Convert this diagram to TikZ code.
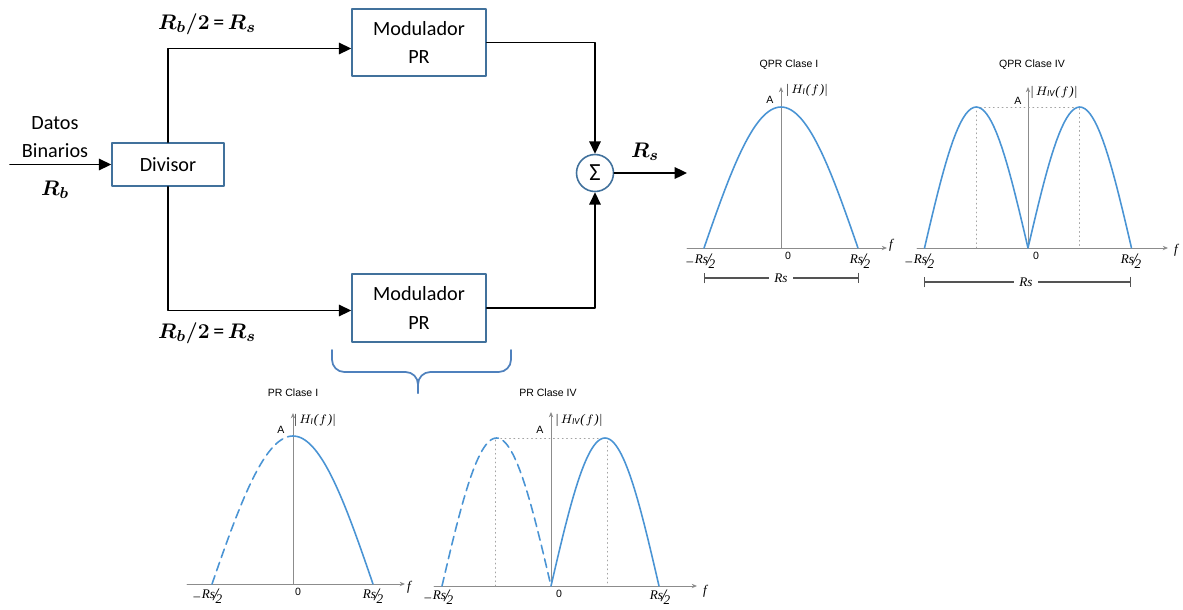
\documentclass[tikz,border=0pt]{standalone}
\usepackage{fontspec}
\usepackage{amsmath}
\setmainfont{Carlito}
\newfontfamily\plotfont{Liberation Sans}
\newfontfamily\plotserif{Liberation Serif}
\usetikzlibrary{arrows.meta, calc, positioning, decorations.pathreplacing}
\definecolor{ink}{HTML}{000000}
\definecolor{boxblue}{HTML}{41719C}
\definecolor{bracecol}{HTML}{4F81BD}
\definecolor{curveblue}{HTML}{4A94D4}
\definecolor{axisgray}{HTML}{8C8C8C}
\tikzset{el/.style={line cap=round, line join=round},
  blk/.style={draw=boxblue, line width=0.9pt, fill=white, minimum width=2.68cm, minimum height=1.35cm, align=center, font=\fontsize{11.5}{16}\selectfont},
  flow/.style={ink, line width=1.1pt, -{Triangle[length=7pt,width=6.5pt]}},
  ax/.style={axisgray, line width=0.5pt, -{Stealth[length=3pt,width=2.5pt]}},
  guide/.style={axisgray!80, dotted, line width=0.5pt},
  crv/.style={curveblue, line width=0.9pt},
  crvd/.style={crv, dash pattern=on 5pt off 3pt},
  ttl/.style={font=\plotfont\fontsize{6}{7}\selectfont, inner sep=0pt},
  lbl/.style={font=\plotserif\itshape\fontsize{7.5}{8}\selectfont, inner sep=0pt},
  rate/.style={font=\fontsize{12.5}{15}\selectfont, inner sep=0pt}}
\newcommand{\halfRs}{\raisebox{0.35ex}{Rs}\kern-0.12em{\fontsize{10}{10}\selectfont/}\kern-0.2em\raisebox{-0.45ex}{2}}
\newcommand{\absH}[1]{$|$\kern0.1em$H_{\mathit{#1}}$(\kern0.05em$f$\kern0.05em)$|$}

\begin{document}
\begin{tikzpicture}[el, x=0.02cm, y=-0.02cm]
  \useasboundingbox (0,0) rectangle (1183,609);
  % block diagram
  \node[blk, minimum width=2.24cm, minimum height=0.86cm] (div) at (168,164.5) {Divisor};
  \node[blk] (modA) at (419,42.5) {Modulador\\PR};
  \node[blk] (modB) at (419,308) {Modulador\\PR};
  \node[draw=boxblue, line width=0.9pt, circle, minimum size=0.74cm, inner sep=0pt, font=\fontsize{14}{14}\selectfont] (sum) at (595,173) {Σ};
  \coordinate (in) at (10,164.5);
  \coordinate (out) at (687,173);
  \draw[flow] (in) -- (div);
  \draw[flow] (div.north) |- ([yshift=-0.12cm]modA.west);
  \draw[flow] (div.south) |- ([yshift=-0.05cm]modB.west);
  \draw[flow] (modA.east) -| (sum.north);
  \draw[flow] (modB.east) -| (sum.south);
  \draw[flow] (sum) -- (out);
  \node[align=center, font=\fontsize{11.5}{16}\selectfont] (datos) at (55,137) {Datos\\Binarios};
  \node[rate] (rb) at (55,190) {$\boldsymbol{R_b}$};
  \node[rate] (rtop) at (207,24) {$\boldsymbol{R_b/2}$\,=\,$\boldsymbol{R_s}$};
  \node[rate] (rbot) at (207,333) {$\boldsymbol{R_b/2}$\,=\,$\boldsymbol{R_s}$};
  \node[rate] (rs) at (645,152) {$\boldsymbol{R_s}$};
  \coordinate (brL) at (332,350);
  \coordinate (brR) at (511,350);
  \coordinate (brT) at (418,393);
  \draw[bracecol, line width=1pt, rounded corners=7pt] (brL) -- (brL |- 0,372) -- (brT |- 0,372) -- (brT);
  \draw[bracecol, line width=1pt, rounded corners=7pt] (brR) -- (brR |- 0,372) -- (brT |- 0,372) -- (brT);

  % QPR Clase I
  \begin{scope}[shift={(781,248)}]
    \draw[ax] (-94,0) -- (106,0);
    \draw[ax] (0,0) -- (0,-161);
    \draw[crv] plot[domain=-1:1, samples=61] ({77*\x},{-141*cos(90*\x)});
    \draw[axisgray!60!black, line width=0.6pt, {Bar[width=6pt]}-{Bar[width=6pt]}] (-77,30) -- (78,30);
    \node[lbl, fill=white, inner xsep=3pt] (q1rs) at (0,30) {Rs};
    \node[ttl] (q1t) at (8,-183) {QPR Clase I};
    \node[ttl] (q1a) at (-11,-148) {A};
    \node[lbl] (q1h) at (26,-158) {\absH{I}};
    \node[ttl] (q1z) at (7,8) {0};
    \node[lbl] (q1l) at (-80,13) {–\kern0.12em\halfRs};
    \node[lbl] (q1r) at (79,13) {\halfRs};
    \node[lbl] (q1f) at (110,-3) {f};
  \end{scope}

  % QPR Clase IV
  \begin{scope}[shift={(1028,248)}]
    \draw[ax] (-111,0) -- (140,0);
    \draw[ax] (0,0) -- (0,-161);
    \draw[guide] (-51.75,0) -- (-51.75,-141) -- (51.75,-141) -- (51.75,0);
    \draw[crv] plot[domain=-1:1, samples=81] ({103.5*\x},{-141*abs(sin(180*\x))});
    \draw[axisgray!60!black, line width=0.6pt, {Bar[width=6pt]}-{Bar[width=6pt]}] (-104,34) -- (103,34);
    \node[lbl, fill=white, inner xsep=3pt] (q4rs) at (-2,34) {Rs};
    \node[ttl] (q4t) at (4,-183) {QPR Clase IV};
    \node[ttl] (q4a) at (-10,-147) {A};
    \node[lbl] (q4h) at (26,-156) {\absH{IV}};
    \node[ttl] (q4z) at (8,8) {0};
    \node[lbl] (q4l) at (-108,13) {–\kern0.12em\halfRs};
    \node[lbl] (q4r) at (103,13) {\halfRs};
    \node[lbl] (q4f) at (148,2) {f};
  \end{scope}

  % PR Clase I
  \begin{scope}[shift={(293,584)}]
    \draw[ax] (-106,0) -- (112,0);
    \draw[ax] (0,0) -- (0,-171);
    \draw[crvd] plot[domain=-1:0, samples=41] ({81*\x},{-148*cos(90*\x)});
    \draw[crv] plot[domain=0:1, samples=41] ({80*\x},{-148*cos(90*\x)});
    \node[ttl] (p1t) at (0,-191) {PR Clase I};
    \node[ttl] (p1a) at (-12,-154) {A};
    \node[lbl] (p1h) at (22,-164) {\absH{I}};
    \node[ttl] (p1z) at (5,8) {0};
    \node[lbl] (p1l) at (-85,12) {–\kern0.12em\halfRs};
    \node[lbl] (p1r) at (80,12) {\halfRs};
    \node[lbl] (p1f) at (116,3) {f};
  \end{scope}

  % PR Clase IV
  \begin{scope}[shift={(551,586)}]
    \draw[ax] (-117,0) -- (146,0);
    \draw[ax] (0,0) -- (0,-174);
    \draw[guide] (-56,0) -- (-56,-148) -- (56,-148) -- (56,0);
    \draw[crvd] plot[domain=-1:0, samples=61] ({109*\x},{-148*abs(sin(180*\x))});
    \draw[crv] plot[domain=0:1, samples=61] ({108*\x},{-148*abs(sin(180*\x))});
    \node[ttl] (p4t) at (-3,-193) {PR Clase IV};
    \node[ttl] (p4a) at (-11,-156) {A};
    \node[lbl] (p4h) at (28,-166) {\absH{IV}};
    \node[ttl] (p4z) at (8,8) {0};
    \node[lbl] (p4l) at (-112,11) {–\kern0.12em\halfRs};
    \node[lbl] (p4r) at (109,11) {\halfRs};
    \node[lbl] (p4f) at (154,5) {f};
  \end{scope}
\end{tikzpicture}
\end{document}
